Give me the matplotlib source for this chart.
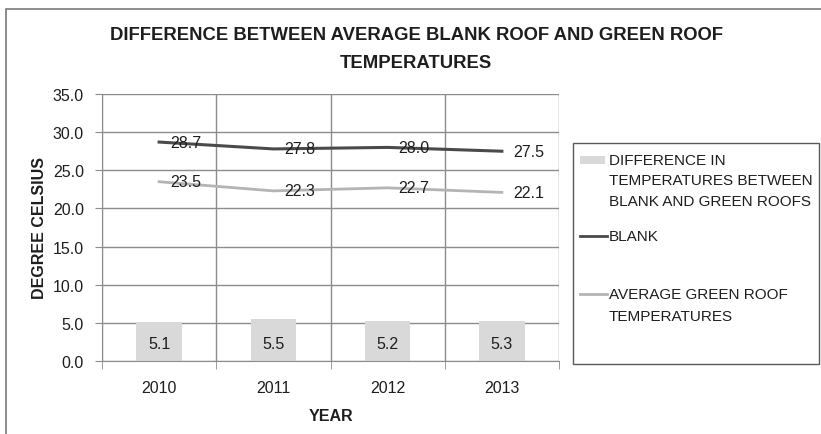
import matplotlib
matplotlib.use("Agg")
import matplotlib.pyplot as plt
from matplotlib.patches import Rectangle
from matplotlib.lines import Line2D

years = ["2010", "2011", "2012", "2013"]
blank = [28.7, 27.8, 28.0, 27.5]
green = [23.5, 22.3, 22.7, 22.1]
diff = [5.1, 5.5, 5.2, 5.3]

plt.rcParams['font.family'] = ['Liberation Sans', 'DejaVu Sans']
txt = '#1e1e1e'
W, H = 821, 435

fig = plt.figure(figsize=(8.21, 4.35), dpi=100)
fig.patch.set_facecolor('white')

def px(x, y):
    # pixel position -> figure fraction
    return x / W, 1 - y / H

# outer chart frame
fig.patches.append(Rectangle(px(6, 440), 830 / W, 430 / H, transform=fig.transFigure,
                             fill=False, edgecolor='#7a7a7a', linewidth=1.2))

ax = fig.add_axes([102 / W, 1 - 362 / H, 457 / W, 267 / H])
x = list(range(len(years)))

ax.bar(x, diff, width=0.4, color='#d9d9d9', zorder=2)
ax.plot(x, blank, color='#4a4a4a', linewidth=2.2, zorder=3)
ax.plot(x, green, color='#b4b4b4', linewidth=2.0, zorder=3)

for i in x:
    ax.annotate('%.1f' % blank[i], (i, blank[i]), xytext=(8, 0), textcoords='offset points',
                va='center', ha='left', fontsize=11.5, color=txt, zorder=4)
    ax.annotate('%.1f' % green[i], (i, green[i]), xytext=(8, 0), textcoords='offset points',
                va='center', ha='left', fontsize=11.5, color=txt, zorder=4)
    ax.text(i, 2.3, '%.1f' % diff[i], ha='center', va='center', fontsize=11.5, color=txt, zorder=4)

ax.set_xlim(-0.5, 3.5)
ax.set_ylim(0, 35)
ax.set_yticks([0, 5, 10, 15, 20, 25, 30, 35])
ax.set_yticklabels(['%.1f' % v for v in ax.get_yticks()])
ax.set_xticks(x)
ax.set_xticklabels(years)
ax.set_xticks([-0.5, 0.5, 1.5, 2.5, 3.5], minor=True)
ax.tick_params(axis='x', which='major', length=0, pad=14, labelsize=11.5, labelcolor=txt)
ax.tick_params(axis='x', which='minor', length=6, color='#8c8c8c')
ax.tick_params(axis='y', length=5, color='#8c8c8c', labelsize=11.5, labelcolor=txt, pad=8)
ax.grid(axis='y', color='#8c8c8c', linewidth=1.0, zorder=0)
ax.grid(axis='x', which='minor', color='#8c8c8c', linewidth=1.0, zorder=0)
ax.set_axisbelow(True)
for s in ax.spines.values():
    s.set_visible(False)
ax.spines['left'].set_visible(True)
ax.spines['left'].set_color('#8c8c8c')
ax.spines['bottom'].set_visible(True)
ax.spines['bottom'].set_color('#8c8c8c')

ax.set_ylabel('DEGREE CELSIUS', fontsize=11.5, fontweight='bold', color=txt, labelpad=4)
ax.set_xlabel('YEAR', fontsize=11.5, fontweight='bold', color=txt, labelpad=9)

fig.text(*px(416, 35), 'DIFFERENCE BETWEEN AVERAGE BLANK ROOF AND GREEN ROOF',
         ha='center', va='center', fontsize=13.3, fontweight='bold', color=txt)
fig.text(*px(416, 64), 'TEMPERATURES',
         ha='center', va='center', fontsize=13.3, fontweight='bold', color=txt)

# legend box
fig.patches.append(Rectangle(px(573, 365), 246 / W, 221 / H, transform=fig.transFigure,
                             fill=False, edgecolor='#5a5a5a', linewidth=1.0))
fig.patches.append(Rectangle(px(580, 165), 25 / W, 8 / H, transform=fig.transFigure,
                             facecolor='#d9d9d9', edgecolor='none'))
fig.lines.append(Line2D([580 / W, 607 / W], [1 - 237 / H] * 2, transform=fig.transFigure,
                        color='#4a4a4a', linewidth=2.0))
fig.lines.append(Line2D([580 / W, 607 / W], [1 - 295 / H] * 2, transform=fig.transFigure,
                        color='#b4b4b4', linewidth=2.0))
legend_rows = [(161, 'DIFFERENCE IN'), (181, 'TEMPERATURES BETWEEN'),
               (202, 'BLANK AND GREEN ROOFS'), (237, 'BLANK'),
               (295, 'AVERAGE GREEN ROOF'), (317, 'TEMPERATURES')]
for yy, s in legend_rows:
    fig.text(*px(609, yy), s, ha='left', va='center', fontsize=11, color=txt)

fig.savefig('out.png', dpi=100)
